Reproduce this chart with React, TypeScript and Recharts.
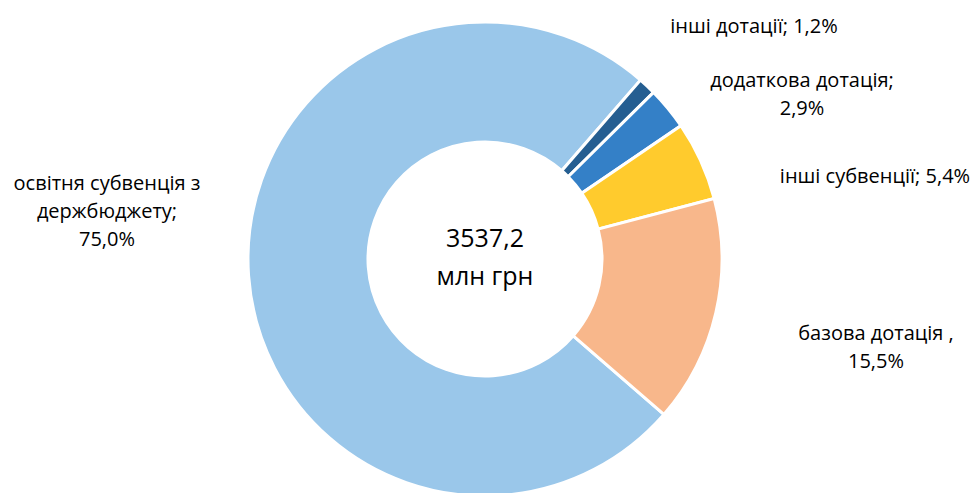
import React from "react";
import { PieChart, Pie, Cell } from "recharts";

const categories = [
  "освітня субвенція з держбюджету",
  "інші дотації",
  "додаткова дотація",
  "інші субвенції",
  "базова дотація",
];
const shares = [75.0, 1.2, 2.9, 5.4, 15.5];
const labelLines = [
  ["освітня субвенція з", "держбюджету;", "75,0%"],
  ["інші дотації; 1,2%"],
  ["додаткова дотація;", "2,9%"],
  ["інші субвенції; 5,4%"],
  ["базова дотація ,", "15,5%"],
];
const totalLines = ["3537,2", "млн грн"];
const colors = ["#9AC7EA", "#255E91", "#3480C7", "#FFCB2D", "#F8B78B"];

const data = categories.map((name, i) => ({ name, value: shares[i] }));

// label anchor offsets relative to pie centre (layout only)
const LABEL_OFFSETS: [number, number][] = [
  [-378, -49],
  [269, -234],
  [317, -166],
  [390, -84],
  [391, 87],
];

const FONT = "'Open Sans', Lato, sans-serif";
const LINE_H = 28;

const renderLabel = (props: any) => {
  const { cx, cy, index } = props;
  const lines = labelLines[index];
  const [dx, dy] = LABEL_OFFSETS[index];
  const x = cx + dx;
  const yMid = cy + dy;
  const y0 = yMid - ((lines.length - 1) * LINE_H) / 2;
  return (
    <g key={`lbl-${index}`}>
      <text
        x={x}
        y={y0}
        textAnchor="middle"
        fill="#000"
        fontSize={20}
        fontFamily={FONT}
      >
        {lines.map((l, i) => (
          <tspan key={i} x={x} y={y0 + i * LINE_H} dominantBaseline="central">
            {l}
          </tspan>
        ))}
      </text>
      {index === 0 ? (
        <text textAnchor="middle" fill="#000" fontSize={25} fontFamily={FONT}>
          <tspan x={cx} y={cy - 22} dominantBaseline="central">
            {totalLines[0]}
          </tspan>
          <tspan x={cx} y={cy + 16} dominantBaseline="central">
            {totalLines[1]}
          </tspan>
        </text>
      ) : null}
    </g>
  );
};

export default function App() {
  return (
    <div style={{ position: "absolute", left: 0, top: 0, background: "#fff" }}>
      <PieChart width={980} height={493} margin={{ top: 0, right: 0, bottom: 0, left: 0 }}>
        <Pie
          data={data}
          dataKey="value"
          nameKey="name"
          cx={485}
          cy={259}
          innerRadius={117}
          outerRadius={237}
          startAngle={-41}
          endAngle={-401}
          stroke="#fff"
          strokeWidth={3}
          isAnimationActive={false}
          labelLine={false}
          label={renderLabel}
        >
          {data.map((d, i) => (
            <Cell key={d.name} fill={colors[i]} />
          ))}
        </Pie>
      </PieChart>
    </div>
  );
}
